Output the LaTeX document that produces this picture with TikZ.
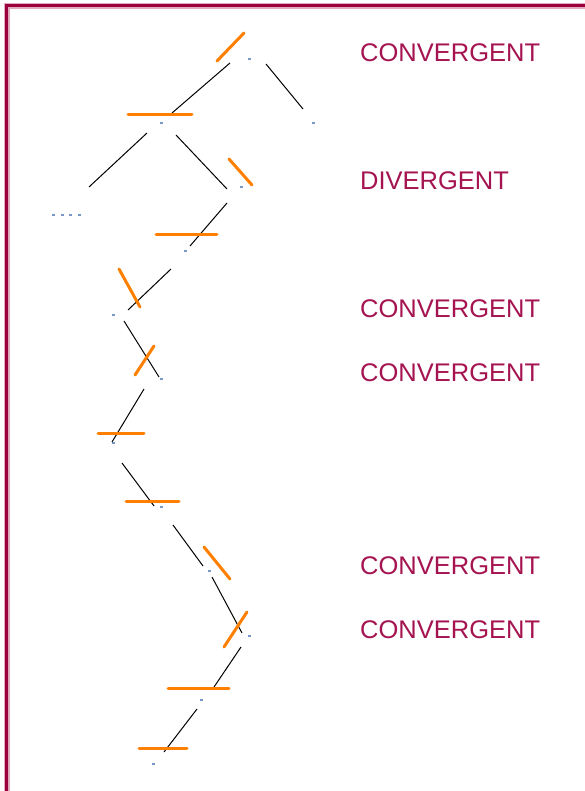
\documentclass[tikz,border=0pt]{standalone}
\usepackage{fontspec}
\setmainfont{Liberation Sans}
\definecolor{frame}{RGB}{155,0,60}
\definecolor{framelight}{RGB}{225,170,190}
\definecolor{lbl}{RGB}{165,20,80}
\definecolor{orng}{RGB}{255,128,0}
\definecolor{dotc}{RGB}{120,150,200}
\begin{document}
\begin{tikzpicture}[x=1pt,y=-1pt,
  blk/.style={black,line width=1pt},
  orl/.style={orng,line width=3pt,line cap=round},
  dotn/.style={fill=dotc,inner sep=0pt,minimum width=3pt,minimum height=2pt,draw=none},
  lab/.style={text=lbl,font=\fontsize{25.5}{30}\selectfont,anchor=base west,inner sep=0pt}]
\useasboundingbox (0,0) rectangle (585,791);
\fill[white] (0,0) rectangle (585,791);
% frame
\draw[framelight,line width=6pt] (6.5,791) -- (6.5,6) -- (585,6);
\draw[frame,line width=3pt] (6.5,791) -- (6.5,6) -- (585,6);
% dots
\foreach \n/\x/\y in {d1/249/59,d2/161/123,d3/313/123,d4/241/187,d5/185/251,d6/113/315,d7/161/379,d8/113/443,d9/161/507,d10/209/571,d11/249/636,d12/201/700,d13/153/764,e1/53/215,e2/62/215,e3/70/215,e4/79/215}
  \node[dotn] (\n) at (\x,\y) {};
% black line end points
\foreach \n/\x/\y in {a1/230/63,b1/172/113,a2/266/64,b2/303/109,a3/147/133,b3/89/187,a4/176/135,b4/227/189,a5/227/203,b5/190/246,a6/171/269,b6/128/310,a7/124/321,b7/159/377,a8/144/389,b8/112/442,a9/122/463,b9/154/506,a10/173/525,b10/203/566,a11/212/577,b11/242/633,a12/241/647,b12/214/687,a13/197/709,b13/164/752}
  \coordinate (\n) at (\x,\y);
\foreach \i in {1,...,13} \draw[blk] (a\i) -- (b\i);
% orange marks
\foreach \n/\x/\y/\u/\v in {1/217/61/244/33,2/128/115/192/115,3/229/159/252/185,4/156/235/217/235,5/119/269/140/307,6/154/346/135/375,7/98/433/144/433,8/126/501/179/501,9/204/547/230/579,10/247/612/224/647,11/168/688/229/688,12/139/748/187/748}
  {\coordinate (p\n) at (\x,\y); \coordinate (q\n) at (\u,\v); \draw[orl] (p\n) -- (q\n);}
% labels
\node[lab] (l1) at (360,62) {CONVERGENT};
\node[lab] (l2) at (360,190) {DIVERGENT};
\node[lab] (l3) at (360,317) {CONVERGENT};
\node[lab] (l4) at (360,381) {CONVERGENT};
\node[lab] (l5) at (360,574) {CONVERGENT};
\node[lab] (l6) at (360,638) {CONVERGENT};
\end{tikzpicture}
\end{document}
